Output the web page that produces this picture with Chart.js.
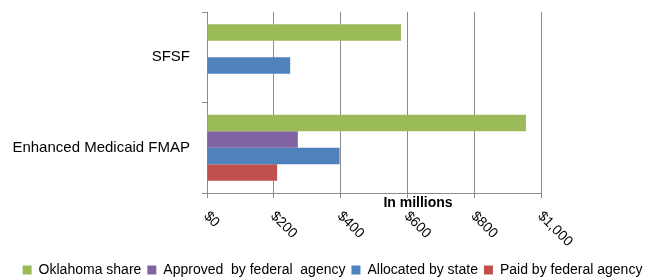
<!DOCTYPE html>
<html>
<head>
<meta charset="utf-8">
<script src="https://cdn.jsdelivr.net/npm/chart.js@4.4.1/dist/chart.umd.min.js"></script>
<style>
  html, body { margin: 0; padding: 0; background: #fff; }
  #wrap { width: 655px; height: 280px; }
</style>
</head>
<body>
<div id="wrap"><canvas id="chart"></canvas></div>
<script>
const categories = ['SFSF', 'Enhanced Medicaid FMAP'];
const oklahomaShare = [581, 955];
const approvedByAgency = [null, 272];
const allocatedByState = [249, 397];
const paidByAgency = [null, 210];
const xTicks = [0, 200, 400, 600, 800, 1000];

const FONT = "'Liberation Sans', Arial, sans-serif";
const GRID = '#8c8c8c';

const fmt = v => '$' + v.toLocaleString('en-US');

// rotated (clockwise) tick labels + "In millions" caption
const axisText = {
    id: 'axisText',
    afterDraw(chart) {
        const { ctx, scales: { x }, chartArea } = chart;
        ctx.save();
        ctx.fillStyle = '#000';
        ctx.font = '14px ' + FONT;
        ctx.textAlign = 'left';
        ctx.textBaseline = 'middle';
        x.ticks.forEach((t, i) => {
            const px = x.getPixelForTick(i);
            ctx.save();
            ctx.translate(px - 1, x.top + 21);
            ctx.rotate(Math.PI / 4);
            ctx.fillText(fmt(t.value), 0, 0);
            ctx.restore();
        });
        ctx.font = 'bold 14px ' + FONT;
        ctx.textAlign = 'center';
        ctx.fillText('In millions', (chartArea.left + chartArea.right) / 2 + 44, x.top + 10);
        ctx.restore();
    }
};

const noPad = s => { s.paddingTop = 0; s.paddingBottom = 0; };

new Chart(document.getElementById('chart'), {
    type: 'bar',
    data: {
        labels: categories,
        datasets: [
            { label: 'Oklahoma share', data: oklahomaShare, backgroundColor: '#9BBB59' },
            { label: 'Approved  by federal  agency', data: approvedByAgency, backgroundColor: '#8064A2' },
            { label: 'Allocated by state', data: allocatedByState, backgroundColor: '#4F81BD' },
            { label: 'Paid by federal agency', data: paidByAgency, backgroundColor: '#C0504D' }
        ]
    },
    options: {
        indexAxis: 'y',
        responsive: true,
        maintainAspectRatio: false,
        animation: false,
        datasets: {
            bar: { categoryPercentage: 0.73, barPercentage: 1, borderWidth: 0 }
        },
        layout: { padding: { top: 12, right: 0, left: 10, bottom: -7 } },
        scales: {
            x: {
                min: 0,
                max: 1000,
                afterBuildTicks: s => { s.ticks = xTicks.map(v => ({ value: v })); },
                afterFit: s => { s.height = 64; s.paddingLeft = 0; s.paddingRight = 0; },
                ticks: { color: 'transparent', minRotation: 0, maxRotation: 0, callback: fmt },
                grid: { color: GRID, lineWidth: 1, tickLength: 5 },
                border: { color: GRID }
            },
            y: {
                offset: true,
                afterFit: s => { s.width = 197; noPad(s); },
                ticks: { color: '#000', font: { family: FONT, size: 15 }, padding: 12 },
                grid: { offset: true, drawOnChartArea: false, color: GRID, tickLength: 5 },
                border: { color: GRID }
            },
            // empty strip on the right, like the reference's wide right margin
            spacer: {
                type: 'linear',
                axis: 'y',
                position: 'right',
                ticks: { display: false },
                grid: { display: false },
                border: { display: false },
                afterFit: s => { s.width = 114; noPad(s); }
            }
        },
        plugins: {
            legend: {
                position: 'bottom',
                labels: {
                    color: '#000',
                    font: { family: FONT, size: 14 },
                    boxWidth: 9,
                    boxHeight: 9,
                    padding: 6
                }
            },
            tooltip: { enabled: false }
        }
    },
    plugins: [axisText]
});
</script>
</body>
</html>
